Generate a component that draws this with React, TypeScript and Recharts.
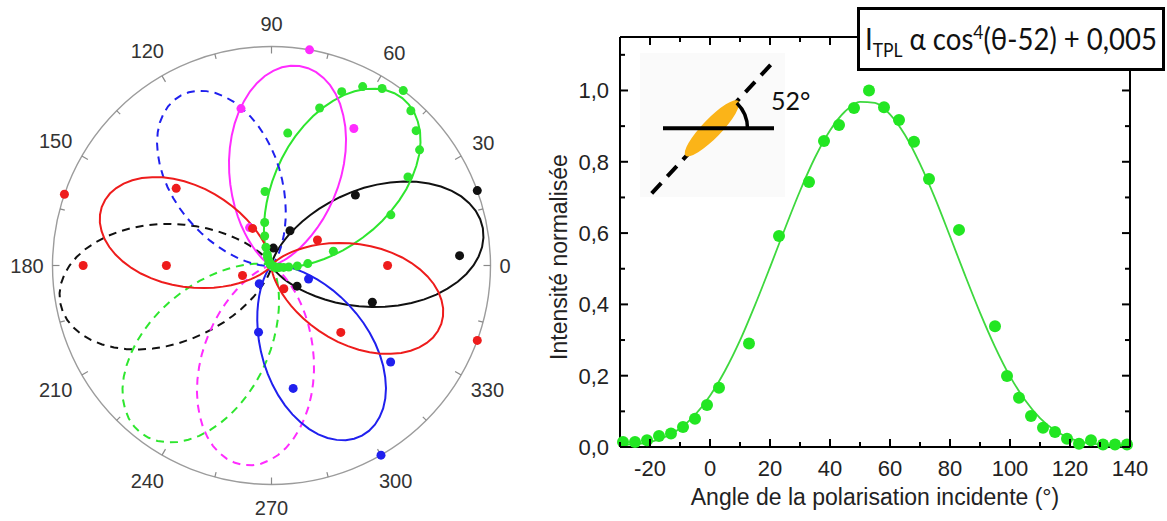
import React from "react";
import {
  ComposedChart,
  Line,
  Scatter,
  XAxis,
  YAxis,
  RadarChart,
  Radar,
  PolarAngleAxis,
  PolarRadiusAxis,
} from "recharts";

// ---------- right panel : green rod, polarisation scan ----------
const scanAngles = [-29, -25, -21, -17, -13, -9, -5, -1, 3, 13, 23, 33, 38, 43, 48, 53, 58, 63, 68, 73, 83, 95, 99, 103, 107, 111, 115, 119, 123, 127, 131, 135, 139];
const scanValues = [0.014, 0.014, 0.019, 0.031, 0.038, 0.056, 0.079, 0.118, 0.166, 0.29, 0.592, 0.743, 0.858, 0.903, 0.951, 1.0, 0.953, 0.917, 0.856, 0.752, 0.609, 0.339, 0.199, 0.138, 0.087, 0.054, 0.042, 0.023, 0.009, 0.019, 0.007, 0.007, 0.007];

const fitAngles = [-30, -25, -20, -15, -10, -5, 0, 5, 10, 15, 20, 25, 30, 35, 40, 45, 50, 55, 60, 65, 70, 75, 80, 85, 90, 95, 100, 105, 110, 115, 120, 125, 130, 135, 140];
const fitValues = [0.005, 0.008, 0.014, 0.028, 0.052, 0.09, 0.144, 0.214, 0.299, 0.398, 0.504, 0.613, 0.718, 0.812, 0.888, 0.941, 0.968, 0.965, 0.933, 0.875, 0.794, 0.698, 0.591, 0.482, 0.377, 0.281, 0.198, 0.132, 0.081, 0.046, 0.024, 0.012, 0.007, 0.005, 0.005];

const xTicks = [-30, -20, -10, 0, 10, 20, 30, 40, 50, 60, 70, 80, 90, 100, 110, 120, 130, 140];
const yTicks = [0, 0.1, 0.2, 0.3, 0.4, 0.5, 0.6, 0.7, 0.8, 0.9, 1.0, 1.1];

// ---------- left panel : polar lobes ----------
// lobe shape (relative radius vs angle from the lobe axis)
const lobeOffsets = [0, 2.5, 5, 7.5, 10, 12.5, 15, 17.5, 20, 22.5, 25, 27.5, 30, 32.5, 35, 37.5, 40, 42.5, 45, 47.5, 50, 52.5, 55, 57.5, 60, 62.5, 65, 67.5, 70, 72.5, 75, 77.5, 80, 82.5, 85, 87.5, 90];
const lobeProfile = [1, 0.996, 0.985, 0.966, 0.941, 0.909, 0.871, 0.827, 0.78, 0.729, 0.675, 0.619, 0.563, 0.506, 0.45, 0.396, 0.344, 0.295, 0.25, 0.208, 0.171, 0.137, 0.108, 0.083, 0.063, 0.045, 0.032, 0.021, 0.014, 0.008, 0.004, 0.002, 0.001, 0, 0, 0, 0];

const lobeNames = ["black", "green", "magenta", "blue", "red"];
const lobeColors = ["#111111", "#2ee62e", "#ff2cff", "#2020ee", "#ee1c1c"];
const lobeAxes = [10, 52, 82, 298, 161];
const lobeMax = [0.98, 0.97, 0.92, 0.88, 0.82];
const lobeBackDashed = [true, true, true, true, false];

const blackPtAngles = [3, 20, 40, 62, 84, 321, 340];
const blackPtValues = [0.86, 1.0, 0.5, 0.18, 0.08, 0.15, 0.49];
const magentaPtAngles = [59, 80, 101, 120];
const magentaPtValues = [0.73, 1.0, 0.73, 0.2];
const bluePtAngles = [236, 259, 280, 300, 321, 340];
const bluePtValues = [0.1, 0.31, 0.57, 1.0, 0.7, 0.18];
const redPtAngles = [0, 29, 117, 141, 161, 180, 180, 199, 298, 316, 340];
const redPtValues = [0.53, 0.24, 0.19, 0.56, 1.0, 0.86, 0.48, 0.14, 0.12, 0.44, 1.0];

const polarTicks = [0, 15, 30, 45, 60, 75, 90, 105, 120, 135, 150, 165, 180, 195, 210, 225, 240, 255, 270, 285, 300, 315, 330, 345];

const norm = (a: number) => ((a % 360) + 360) % 360;
const byAngle = (a: { angle: number }, b: { angle: number }) => a.angle - b.angle;

// one half of a cos^4 lobe pair, centred on `axis`
const lobeRows = (axis: number, amp: number) => {
  const rows: { angle: number; r: number }[] = [];
  lobeOffsets.forEach((off, j) => {
    const offs = off === 0 ? [0] : [off, -off];
    offs.forEach((o) => rows.push({ angle: norm(axis + o), r: amp * lobeProfile[j] }));
  });
  return rows.sort(byAngle);
};

const lobeLayers = lobeNames.flatMap((name, i) => [
  { key: name + "Back", rows: lobeRows(lobeAxes[i] + 180, lobeMax[i]), color: lobeColors[i], dash: lobeBackDashed[i] ? "8 6" : undefined },
  { key: name + "Front", rows: lobeRows(lobeAxes[i], lobeMax[i]), color: lobeColors[i], dash: undefined },
]);

const pointSets: [number[], number[]][] = [
  [blackPtAngles, blackPtValues],
  [scanAngles, scanValues],
  [magentaPtAngles, magentaPtValues],
  [bluePtAngles, bluePtValues],
  [redPtAngles, redPtValues],
];
const pointLayers = pointSets.map(([angles, values], i) => ({
  key: lobeNames[i] + "Pts",
  color: lobeColors[i],
  rows: angles.map((a, k) => ({ angle: norm(a), r: values[k] })).sort(byAngle),
}));

const fitRows = fitAngles.map((a, i) => ({ angle: a, fit: fitValues[i] }));
const scanRows = scanAngles.map((a, i) => ({ angle: a, value: scanValues[i] }));

const AXIS_FONT = "'Liberation Sans', Arial, sans-serif";

const polarTick = (p: any) => {
  const v = p.payload.value;
  if (v >= 360) return <g />;
  const a = (p.payload.coordinate * Math.PI) / 180;
  const c = Math.cos(a);
  const s = Math.sin(a);
  // point on the circle (tickSize is 1)
  const x0 = p.x - c;
  const y0 = p.y + s;
  const labelled = v % 30 === 0;
  const len = labelled ? 7 : 5;
  const label = String(v);
  const w = label.length * 11;
  const d = 9 + 7 * Math.abs(s) + (Math.abs(c) * w) / 2 + Math.abs(s) * 7;
  return (
    <g>
      <line x1={x0} y1={y0} x2={x0 - len * c} y2={y0 + len * s} stroke="#8a8a8a" strokeWidth={1.2} />
      {labelled && (
        <text x={x0 + d * c} y={y0 - d * s} dy="0.36em" textAnchor="middle" fontSize={20} fontFamily={AXIS_FONT} fill="#333">
          {label}
        </text>
      )}
    </g>
  );
};

type PolarProps = { data: any[]; frame?: boolean; children?: React.ReactNode };

// every layer shares the same polar geometry, only the first shows the frame
function PolarLayer({ data, frame = false, children }: PolarProps) {
  return (
    <div style={{ position: "absolute", left: 0, top: 0 }}>
      <RadarChart
        width={545}
        height={521}
        data={data}
        cx={271.5}
        cy={265.5}
        outerRadius={219}
        startAngle={0}
        endAngle={360}
        margin={{ top: 0, right: 0, bottom: 0, left: 0 }}
      >
        <PolarAngleAxis
          dataKey="angle"
          type="number"
          domain={[0, 360]}
          ticks={polarTicks}
          tickCount={25}
          axisLineType="circle"
          axisLine={frame ? { stroke: "#9c9c9c", strokeWidth: 1.4 } : false}
          tickLine={false}
          tickSize={1}
          tick={frame ? polarTick : false}
        />
        <PolarRadiusAxis type="number" domain={[0, 1]} tick={false} axisLine={false} tickLine={false} />
        {children}
      </RadarChart>
    </div>
  );
}

const fmt = (v: number) => v.toFixed(1).replace(".", ",");
const isMajorY = (v: number) => Math.round(v * 10) % 2 === 0;
const isMajorX = (v: number) => v % 20 === 0;

const leftTick = (p: any) => {
  const v = p.payload.value;
  const major = isMajorY(v);
  return (
    <g>
      <line x1={p.x} y1={p.y} x2={p.x + (major ? 8 : 5)} y2={p.y} stroke="#000" strokeWidth={2} />
      {major && (
        <text x={p.x - 11} y={p.y} dy="0.36em" textAnchor="end" fontSize={22} fontFamily={AXIS_FONT} fill="#222">
          {fmt(v)}
        </text>
      )}
    </g>
  );
};
const rightTick = (p: any) => {
  const major = isMajorY(p.payload.value);
  return <line x1={p.x} y1={p.y} x2={p.x - (major ? 8 : 5)} y2={p.y} stroke="#000" strokeWidth={2} />;
};
const bottomTick = (p: any) => {
  const v = p.payload.value;
  const major = isMajorX(v);
  return (
    <g>
      <line x1={p.x} y1={p.y} x2={p.x} y2={p.y - (major ? 8 : 5)} stroke="#000" strokeWidth={2} />
      {major && (
        <text x={p.x} y={p.y + 21} dy="0.36em" textAnchor="middle" fontSize={22} fontFamily={AXIS_FONT} fill="#222">
          {v}
        </text>
      )}
    </g>
  );
};
const topTick = (p: any) => {
  const major = isMajorX(p.payload.value);
  return <line x1={p.x} y1={p.y} x2={p.x} y2={p.y + (major ? 8 : 5)} stroke="#000" strokeWidth={2} />;
};

export default function App() {
  return (
    <div style={{ position: "absolute", left: 0, top: 0, width: 1167, height: 521, background: "#fff", overflow: "hidden" }}>
      <PolarLayer data={[{ angle: 0 }]} frame />
      {lobeLayers.map((l) => (
        <PolarLayer key={l.key} data={l.rows}>
          <Radar
            dataKey="r"
            stroke={l.color}
            strokeWidth={2}
            strokeDasharray={l.dash}
            fill="none"
            fillOpacity={0}
            dot={false}
            isAnimationActive={false}
          />
        </PolarLayer>
      ))}
      {pointLayers.map((l) => (
        <PolarLayer key={l.key} data={l.rows}>
          <Radar
            dataKey="r"
            stroke="none"
            fill="none"
            fillOpacity={0}
            dot={{ r: 4.5, fill: l.color, stroke: "none", fillOpacity: 1 }}
            isAnimationActive={false}
          />
        </PolarLayer>
      ))}

      <div style={{ position: "absolute", left: 540, top: 0 }}>
        <ComposedChart width={627} height={521} data={fitRows} margin={{ top: 36, right: 36, bottom: 73, left: 79 }}>
          <XAxis
            xAxisId="bottom"
            dataKey="angle"
            type="number"
            domain={[-30, 140]}
            ticks={xTicks}
            interval={0}
            height={1}
            tickSize={0}
            tickMargin={0}
            tickLine={false}
            axisLine={{ stroke: "#000", strokeWidth: 2 }}
            tick={bottomTick}
          />
          <XAxis
            xAxisId="top"
            orientation="top"
            dataKey="angle"
            type="number"
            domain={[-30, 140]}
            ticks={xTicks}
            interval={0}
            height={1}
            tickSize={0}
            tickMargin={0}
            tickLine={false}
            axisLine={{ stroke: "#000", strokeWidth: 2 }}
            tick={topTick}
          />
          <YAxis
            yAxisId="left"
            type="number"
            domain={[0, 1.15]}
            ticks={yTicks}
            interval={0}
            width={1}
            tickSize={0}
            tickMargin={0}
            tickLine={false}
            axisLine={{ stroke: "#000", strokeWidth: 2 }}
            tick={leftTick}
          />
          <YAxis
            yAxisId="right"
            orientation="right"
            dataKey="value"
            type="number"
            domain={[0, 1.15]}
            ticks={yTicks}
            interval={0}
            width={1}
            tickSize={0}
            tickMargin={0}
            tickLine={false}
            axisLine={{ stroke: "#000", strokeWidth: 2 }}
            tick={rightTick}
          />
          <Line
            xAxisId="bottom"
            yAxisId="left"
            dataKey="fit"
            type="monotone"
            stroke="#3ed83e"
            strokeWidth={1.8}
            dot={false}
            isAnimationActive={false}
          />
          <Scatter
            xAxisId="top"
            yAxisId="right"
            data={scanRows}
            dataKey="value"
            fill="#22e622"
            shape={(p: any) => <circle cx={p.cx} cy={p.cy} r={6} fill="#22e622" />}
            isAnimationActive={false}
          />
        </ComposedChart>
      </div>

      <svg width={1167} height={521} style={{ position: "absolute", left: 0, top: 0, pointerEvents: "none" }}>
        {/* axis titles of the right panel */}
        <text
          x={559}
          y={257}
          dy="0.35em"
          textAnchor="middle"
          transform="rotate(-90 559 257)"
          fontSize={23}
          fontFamily={AXIS_FONT}
          fill="#222"
        >
          Intensité normalisée
        </text>
        <text x={875} y={497} dy="0.35em" textAnchor="middle" fontSize={23} fontFamily={AXIS_FONT} fill="#222">
          Angle de la polarisation incidente (°)
        </text>

        {/* inset sketch */}
        <rect x={640} y={53} width={145} height={144} fill="#fafafa" />
        <line x1={651.7} y1={193.3} x2={776.7} y2={58.3} stroke="#000" strokeWidth={4} strokeDasharray="14 9" />
        <ellipse cx={712} cy={128.3} rx={38} ry={9.5} fill="#fbb418" transform="rotate(-46 712 128.3)" />
        <line x1={663} y1={128.3} x2={774} y2={128.3} stroke="#000" strokeWidth={4} />
        <path d="M 747.5 128.3 A 35.5 35.5 0 0 0 736.8 102.9" fill="none" stroke="#000" strokeWidth={3.5} />
        <text x={771} y={110} fontSize={25} fontFamily="Lato, 'Open Sans', sans-serif" fill="#111">
          52°
        </text>

        {/* fit equation */}
        <rect x={858.5} y={8.5} width={305} height={61} fill="#fff" stroke="#000" strokeWidth={3} />
        <text x={865} y={50} fontSize={30} fontFamily="Lato, 'Open Sans', sans-serif" fill="#111" textLength={292} lengthAdjust="spacingAndGlyphs">
          I
          <tspan fontSize={19} dy={7}>TPL</tspan>
          <tspan dy={-7}> α cos</tspan>
          <tspan fontSize={19} dy={-11}>4</tspan>
          <tspan dy={11}>(θ-52) + 0,005</tspan>
        </text>
      </svg>
    </div>
  );
}
